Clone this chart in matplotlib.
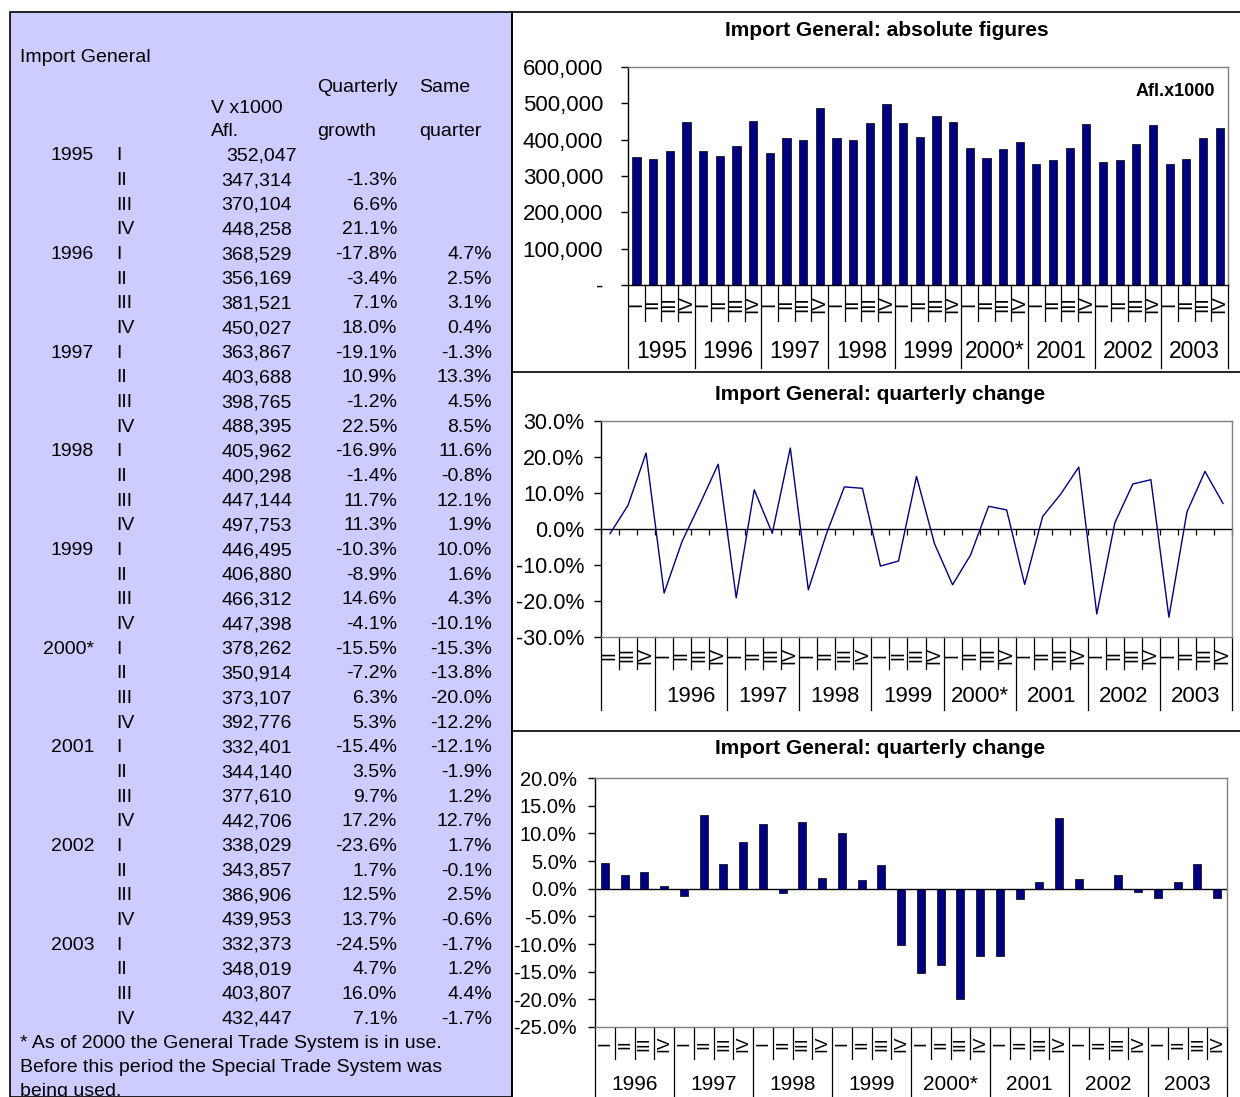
import matplotlib
matplotlib.use('Agg')
import matplotlib.pyplot as plt
import numpy as np
import matplotlib.transforms as mtransforms
from matplotlib.lines import Line2D
from matplotlib.patches import Rectangle

plt.rcParams['font.family'] = ['Liberation Sans', 'DejaVu Sans']

# ---------------- data ----------------
years = ['1995', '1996', '1997', '1998', '1999', '2000*', '2001', '2002', '2003']
quarters = ['I', 'II', 'III', 'IV']
values = [352047, 347314, 370104, 448258,
          368529, 356169, 381521, 450027,
          363867, 403688, 398765, 488395,
          405962, 400298, 447144, 497753,
          446495, 406880, 466312, 447398,
          378262, 350914, 373107, 392776,
          332401, 344140, 377610, 442706,
          338029, 343857, 386906, 439953,
          332373, 348019, 403807, 432447]
qgrowth = [-1.3, 6.6, 21.1,
           -17.8, -3.4, 7.1, 18.0,
           -19.1, 10.9, -1.2, 22.5,
           -16.9, -1.4, 11.7, 11.3,
           -10.3, -8.9, 14.6, -4.1,
           -15.5, -7.2, 6.3, 5.3,
           -15.4, 3.5, 9.7, 17.2,
           -23.6, 1.7, 12.5, 13.7,
           -24.5, 4.7, 16.0, 7.1]
samequarter = [4.7, 2.5, 3.1, 0.4,
               -1.3, 13.3, 4.5, 8.5,
               11.6, -0.8, 12.1, 1.9,
               10.0, 1.6, 4.3, -10.1,
               -15.3, -13.8, -20.0, -12.2,
               -12.1, -1.9, 1.2, 12.7,
               1.7, -0.1, 2.5, -0.6,
               -1.7, 1.2, 4.4, -1.7]
abs_ticks = [0, 100000, 200000, 300000, 400000, 500000, 600000]
qg_ticks = [-30, -20, -10, 0, 10, 20, 30]
sq_ticks = [-25, -20, -15, -10, -5, 0, 5, 10, 15, 20]

NAVY = '#000080'
GRAY = '#808080'
W, H = 1240, 1097
fig = plt.figure(figsize=(W / 100, H / 100), dpi=100)


def fx(x):
    return x / W


def fy(y):
    return 1 - y / H


def px_axes(x0, y0, x1, y1):
    return fig.add_axes([fx(x0), fy(y1), (x1 - x0) / W, (y1 - y0) / H])


def fline(x0, y0, x1, y1, color='black', lw=1.2):
    fig.add_artist(Line2D([fx(x0), fx(x1)], [fy(y0), fy(y1)], color=color, lw=lw,
                          transform=fig.transFigure))


def ftext(x, y, s, ha='left', size=13, weight='normal', **kw):
    fig.text(fx(x), fy(y), s, ha=ha, va='center', fontsize=size, fontweight=weight, **kw)


# ---------------- left table panel ----------------
fig.add_artist(Rectangle((fx(10), 0), (512 - 10) / W, fy(12), transform=fig.transFigure,
                         facecolor='#CCCCFF', edgecolor='black', lw=1.2, zorder=0))

TS = 14
ftext(20, 58, 'Import General', size=TS)
ftext(317, 88, 'Quarterly', size=TS)
ftext(419, 88, 'Same', size=TS)
ftext(211, 109, 'V x1000', size=TS)
ftext(211, 132, 'Afl.', size=TS)
ftext(317, 132, 'growth', size=TS)
ftext(419, 132, 'quarter', size=TS)

row0, dy = 156, 24.66
for i, v in enumerate(values):
    y = row0 + i * dy
    if i % 4 == 0:
        ftext(94, y, years[i // 4], ha='right', size=TS)
    ftext(116, y, quarters[i % 4], size=TS)
    ftext(297 if i == 0 else 292, y, f'{v:,}', ha='right', size=TS)
    if i >= 1:
        ftext(397, y, f'{qgrowth[i - 1]:.1f}%', ha='right', size=TS)
    if i >= 4:
        ftext(492, y, f'{samequarter[i - 4]:.1f}%', ha='right', size=TS)

ftext(20, 1043, '* As of 2000 the General Trade System is in use.', size=TS)
ftext(20, 1068, 'Before this period the Special Trade System was', size=TS)
ftext(20, 1091, 'being used.', size=TS)

# ---------------- chart frames ----------------
fline(512, 12, W, 12)
fline(512, 12, 512, H)
fline(512, 372, W, 372)
fline(512, 731, W, 731)


def style_axes(ax, bottom_color='black'):
    ax.set_facecolor('white')
    ax.spines['left'].set_color('black')
    ax.spines['bottom'].set_color(bottom_color)
    ax.spines['top'].set_color(GRAY)
    ax.spines['right'].set_color(GRAY)
    for s in ax.spines.values():
        s.set_linewidth(1.0)
    ax.set_xticks([])


def category_labels(ax, y_axis_px, ax_h_px, n, qlabels, year_bounds, year_names,
                    q_end, y_end, q_y, y_y, qsize, ysize):
    trans = mtransforms.blended_transform_factory(ax.transData, ax.transAxes)

    def fr(ypx):
        return -(ypx - y_axis_px) / ax_h_px

    for k in range(n + 1):
        xb = k - 0.5
        long_ = xb in year_bounds
        ax.add_line(Line2D([xb, xb], [0, fr(y_end if long_ else q_end)], transform=trans,
                           color='black', lw=0.9, clip_on=False))
    for i in range(n):
        ax.text(i, fr(q_y), qlabels[i], rotation=90, ha='center', va='center',
                transform=trans, fontsize=qsize, clip_on=False)
    for j in range(len(year_bounds) - 1):
        name = year_names[j]
        if name:
            xc = (year_bounds[j] + year_bounds[j + 1]) / 2
            ax.text(xc, fr(y_y), name, ha='center', va='center', transform=trans,
                    fontsize=ysize, clip_on=False)


# ---------------- chart 1: absolute figures ----------------
ftext(887, 30, 'Import General: absolute figures', ha='center', size=15, weight='bold')
ax1 = px_axes(628, 67, 1228, 285)
style_axes(ax1)
n1 = len(values)
ax1.bar(np.arange(n1), values, width=0.5, color=NAVY, edgecolor='black', lw=0.5)
ax1.set_xlim(-0.5, n1 - 0.5)
ax1.set_ylim(abs_ticks[0], abs_ticks[-1])
ax1.set_yticks(abs_ticks)
ax1.set_yticklabels(['-' if t == 0 else f'{t:,}' for t in abs_ticks])
ax1.tick_params(axis='y', direction='out', length=5, width=1, labelsize=16, pad=13)
ax1.text(fx(1215), fy(91), 'Afl.x1000', transform=fig.transFigure, ha='right',
         va='center', fontsize=13, fontweight='bold')
yb1 = [-0.5 + 4 * k for k in range(len(years) + 1)]
category_labels(ax1, 285, 218, n1, [quarters[i % 4] for i in range(n1)], yb1, years,
                q_end=321, y_end=368, q_y=304, y_y=352, qsize=13.5, ysize=16.5)

# ---------------- chart 2: quarterly change (line) ----------------
ftext(880, 395, 'Import General: quarterly change', ha='center', size=15, weight='bold')
ax2 = px_axes(601, 421, 1232, 637)
style_axes(ax2, bottom_color=GRAY)
n2 = len(qgrowth)
x2 = np.arange(n2)
ax2.axhline(0, color='black', lw=1.0, zorder=1)
ax2.plot(np.arange(n2 + 1) - 0.5, np.zeros(n2 + 1), linestyle='none', marker=3,
         markersize=4, color='black', markeredgewidth=0.9, clip_on=False)
ax2.plot(x2, qgrowth, color=NAVY, lw=1.0, zorder=3)
ax2.set_xlim(-0.5, n2 - 0.5)
ax2.set_ylim(qg_ticks[0], qg_ticks[-1])
ax2.set_yticks(qg_ticks)
ax2.set_yticklabels([f'{t:.1f}%' for t in qg_ticks])
ax2.tick_params(axis='y', direction='out', length=5, width=1, labelsize=15.5, pad=7)
yb2 = [-0.5] + [2.5 + 4 * k for k in range(len(years))]
category_labels(ax2, 637, 216, n2, [quarters[(i + 1) % 4] for i in range(n2)], yb2,
                [''] + years[1:], q_end=669, y_end=710, q_y=655, y_y=697,
                qsize=13, ysize=16)

# ---------------- chart 3: same quarter change (bars) ----------------
ftext(880, 749, 'Import General: quarterly change', ha='center', size=15, weight='bold')
ax3 = px_axes(595, 778, 1227, 1027)
style_axes(ax3, bottom_color=GRAY)
n3 = len(samequarter)
ax3.bar(np.arange(n3), samequarter, width=0.4, color=NAVY, edgecolor='black', lw=0.5,
        zorder=3)
ax3.axhline(0, color='black', lw=1.0, zorder=2)
ax3.set_xlim(-0.5, n3 - 0.5)
ax3.set_ylim(sq_ticks[0], sq_ticks[-1])
ax3.set_yticks(sq_ticks)
ax3.set_yticklabels([f'{t:.1f}%' for t in sq_ticks])
ax3.tick_params(axis='y', direction='out', length=5, width=1, labelsize=14.5, pad=8)
yb3 = [-0.5 + 4 * k for k in range(len(years))]
category_labels(ax3, 1027, 249, n3, [quarters[i % 4] for i in range(n3)], yb3,
                years[1:], q_end=1059, y_end=1100, q_y=1044, y_y=1085,
                qsize=12.5, ysize=15)

fig.savefig('out.png', dpi=100)
